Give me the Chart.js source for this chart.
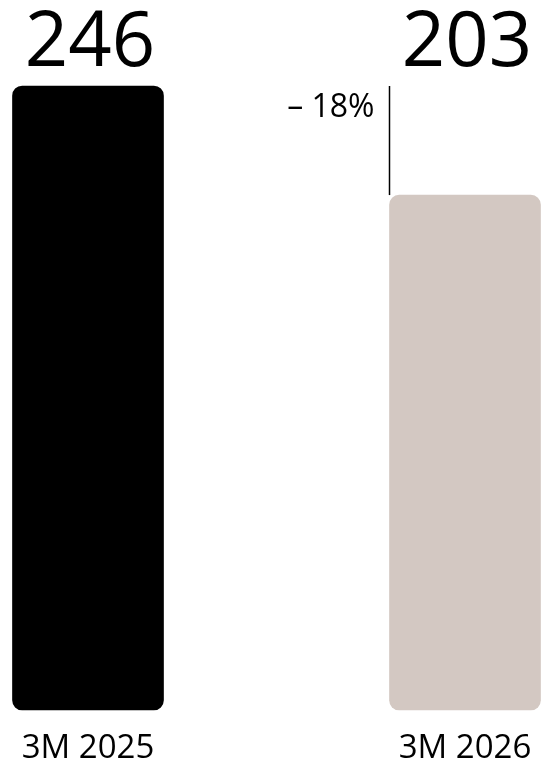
<!DOCTYPE html>
<html>
<head>
<meta charset="utf-8">
<script src="https://cdn.jsdelivr.net/npm/chart.js@4"></script>
<style>
  body { margin: 0; background: #fff; }
  #wrap { width: 541px; height: 761px; }
</style>
</head>
<body>
<div id="wrap"><canvas id="chart"></canvas></div>
<script>
var periods = ['3M 2025', '3M 2026'];
var totals = [246, 203];
var barColors = ['#000000', '#d3c8c2'];
var changeLabel = '\u2013 18%';

// numbers over the bars, all on one line above the tallest bar
var valueLabels = {
  id: 'valueLabels',
  afterDatasetsDraw: function(chart) {
    var ctx = chart.ctx;
    var meta = chart.getDatasetMeta(0);
    var yTop = chart.scales.y.getPixelForValue(Math.max.apply(null, totals));
    ctx.save();
    ctx.fillStyle = '#000';
    ctx.font = '76px "Open Sans"';
    ctx.textAlign = 'center';
    ctx.textBaseline = 'alphabetic';
    meta.data.forEach(function(bar, i) {
      ctx.fillText(totals[i], bar.x + 2, yTop - 20);
    });

    // change marker: line from first value level down to second bar
    var b = meta.data[1];
    var x = Math.round(b.x - b.width / 2) - 0.5;
    ctx.strokeStyle = '#000';
    ctx.lineWidth = 1.5;
    ctx.beginPath();
    ctx.moveTo(x, yTop);
    ctx.lineTo(x, b.y);
    ctx.stroke();
    ctx.font = '32px "Open Sans"';
    ctx.textAlign = 'right';
    ctx.fillText(changeLabel, x - 15, yTop + 31);
    ctx.restore();
  }
};

var ctx = document.getElementById('chart').getContext('2d');
var myChart = new Chart(ctx, {
  type: 'bar',
  data: {
    labels: periods,
    datasets: [
      {
        data: totals,
        backgroundColor: barColors,
        barThickness: 151,
        borderRadius: 10,
        borderSkipped: false,
        clip: false
      }
    ]
  },
  options: {
    responsive: true,
    maintainAspectRatio: false,
    animation: false,
    layout: {
      padding: { top: 86, left: 88, right: 76, bottom: 0 }
    },
    plugins: {
      legend: { display: false },
      tooltip: { enabled: false }
    },
    scales: {
      x: {
        offset: false,
        grid: { display: false, drawTicks: false },
        border: { display: false },
        ticks: {
          color: '#000',
          padding: 19,
          font: { family: 'Open Sans', size: 33 }
        },
        afterFit: function(scale) {
          scale.height = 51;
          // labels fit inside the layout padding already
          scale.paddingLeft = 0;
          scale.paddingRight = 0;
        }
      },
      y: {
        display: false,
        min: 0,
        max: Math.max.apply(null, totals)
      }
    }
  },
  plugins: [valueLabels]
});
</script>
</body>
</html>
